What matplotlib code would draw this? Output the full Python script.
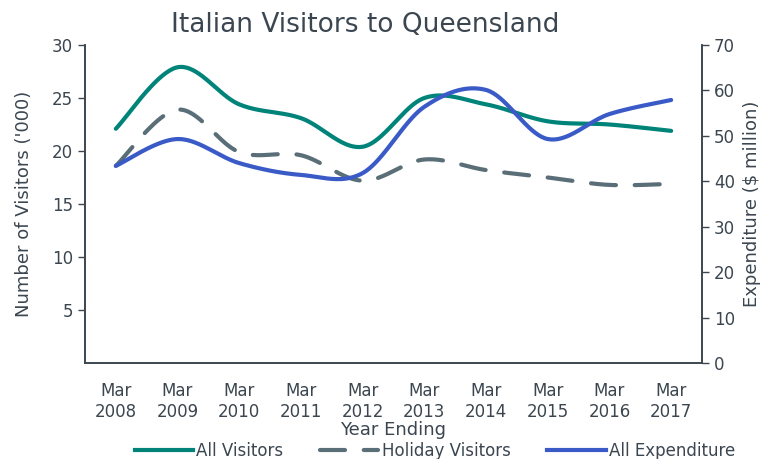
import numpy as np
import matplotlib
matplotlib.use("Agg")
import matplotlib.pyplot as plt
from matplotlib.lines import Line2D

categories = ["Mar\n2008", "Mar\n2009", "Mar\n2010", "Mar\n2011", "Mar\n2012",
              "Mar\n2013", "Mar\n2014", "Mar\n2015", "Mar\n2016", "Mar\n2017"]
all_visitors = [22.1, 27.9, 24.4, 23.1, 20.4, 25.0, 24.4, 22.8, 22.5, 21.9]
holiday_visitors = [18.6, 23.9, 19.9, 19.6, 17.2, 19.2, 18.2, 17.5, 16.8, 16.9]
all_expenditure = [43.4, 49.3, 44.0, 41.4, 41.8, 56.4, 60.1, 49.3, 54.8, 57.9]

C_GREEN = "#00847A"
C_GRAY = "#5A6E78"
C_BLUE = "#3A5BC7"
C_TEXT = "#3B4650"


def smooth(xs, ys, n=40, t=0.5):
    """Catmull-Rom style smoothing for drawing (like spreadsheet smoothed lines)."""
    xs = np.asarray(xs, float)
    ys = np.asarray(ys, float)
    px, py = [], []
    m = len(xs)
    for i in range(m - 1):
        x0, y0 = (xs[i - 1], ys[i - 1]) if i > 0 else (xs[i], ys[i])
        x1, y1 = xs[i], ys[i]
        x2, y2 = xs[i + 1], ys[i + 1]
        x3, y3 = (xs[i + 2], ys[i + 2]) if i + 2 < m else (xs[i + 1], ys[i + 1])
        c1x = x1 + (x2 - x0) * t / 3
        c1y = y1 + (y2 - y0) * t / 3
        c2x = x2 - (x3 - x1) * t / 3
        c2y = y2 - (y3 - y1) * t / 3
        s = np.linspace(0, 1, n, endpoint=(i == m - 2))
        bx = (1 - s) ** 3 * x1 + 3 * (1 - s) ** 2 * s * c1x + 3 * (1 - s) * s ** 2 * c2x + s ** 3 * x2
        by = (1 - s) ** 3 * y1 + 3 * (1 - s) ** 2 * s * c1y + 3 * (1 - s) * s ** 2 * c2y + s ** 3 * y2
        px.extend(bx)
        py.extend(by)
    return np.array(px), np.array(py)


plt.rcParams['font.family'] = ['DejaVu Sans']
fig = plt.figure(figsize=(7.7, 4.59), dpi=100)
ax = fig.add_axes([85 / 770, 1 - 363 / 459, (702 - 85) / 770, (363 - 45) / 459])
ax2 = ax.twinx()

x = np.arange(len(categories))
lw = 3.0
gx, gy = smooth(x, all_visitors)
hx, hy = smooth(x, holiday_visitors)
bx, by = smooth(x, all_expenditure)
ax.plot(gx, gy, color=C_GREEN, lw=lw, solid_capstyle='round', zorder=3)
ax.plot(hx, hy, color=C_GRAY, lw=lw, dash_capstyle='round', dashes=(6, 4.5), zorder=2)
ax2.plot(bx, by, color=C_BLUE, lw=lw, solid_capstyle='round', zorder=3)

ax.set_xlim(-0.5, len(categories) - 0.5)
ax.set_ylim(0, 30)
ax2.set_ylim(0, 70)
ax.set_yticks([5, 10, 15, 20, 25, 30])
ax2.set_yticks(range(0, 71, 10))
ax.set_xticks(x)
ax.set_xticklabels(categories, fontsize=12, color=C_TEXT, linespacing=1.15)
ax.tick_params(axis='x', length=0, pad=14)
ax.tick_params(axis='y', labelsize=12, colors=C_TEXT, length=5, width=1, direction='out')
ax2.tick_params(axis='y', labelsize=12, colors=C_TEXT, length=5, width=1, direction='out')
for a in (ax, ax2):
    a.spines['top'].set_visible(False)
    for s in ('left', 'right', 'bottom'):
        a.spines[s].set_color(C_TEXT)
        a.spines[s].set_linewidth(1.2)

ax.set_ylabel("Number of Visitors ('000)", fontsize=13, color=C_TEXT, labelpad=14)
ax2.set_ylabel("Expenditure ($ million)", fontsize=13, color=C_TEXT, labelpad=6)
ax.set_xlabel("Year Ending", fontsize=13, color=C_TEXT, labelpad=0)
fig.text(365 / 770, 1 - 25 / 459, "Italian Visitors to Queensland", ha='center', va='center',
         fontsize=19, color=C_TEXT)

handles = [Line2D([], [], color=C_GREEN, lw=lw),
           Line2D([], [], color=C_GRAY, lw=lw, dashes=(6, 4.5), dash_capstyle='round'),
           Line2D([], [], color=C_BLUE, lw=lw)]
fig.legend(handles, ["All Visitors", "Holiday Visitors", "All Expenditure"],
           loc='center', bbox_to_anchor=(435 / 770, 1 - 451 / 459), ncol=3, frameon=False,
           fontsize=12, labelcolor=C_TEXT, handlelength=3.5, handletextpad=0.2,
           columnspacing=2.2, borderaxespad=0)

fig.savefig("out.png", dpi=100)
